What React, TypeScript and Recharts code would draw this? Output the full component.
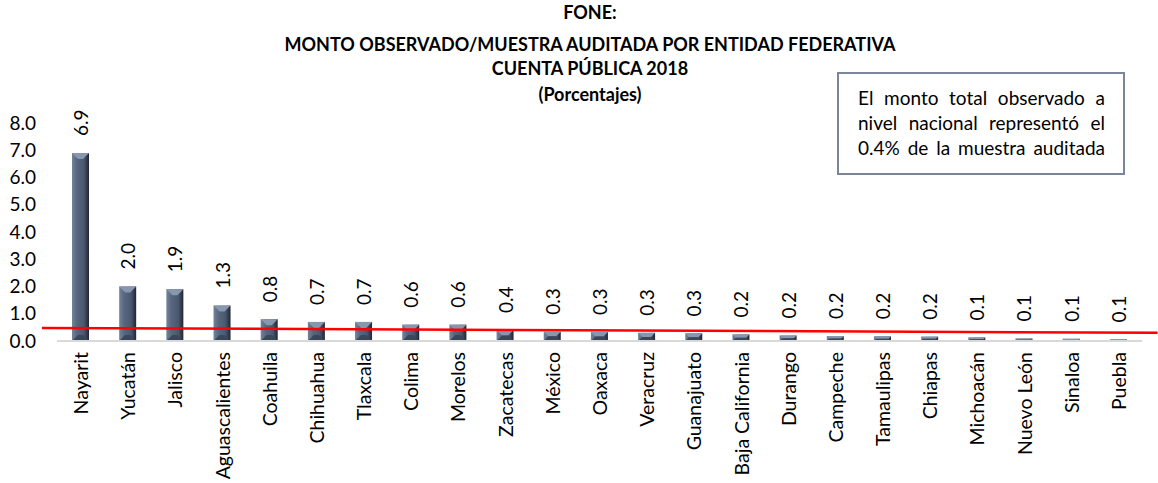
import React from 'react';
import { BarChart, Bar, XAxis, YAxis, ReferenceLine, LabelList } from 'recharts';

const states = [
  'Nayarit', 'Yucatán', 'Jalisco', 'Aguascalientes', 'Coahuila', 'Chihuahua', 'Tlaxcala', 'Colima',
  'Morelos', 'Zacatecas', 'México', 'Oaxaca', 'Veracruz', 'Guanajuato', 'Baja California', 'Durango',
  'Campeche', 'Tamaulipas', 'Chiapas', 'Michoacán', 'Nuevo León', 'Sinaloa', 'Puebla',
];
const porcentajes = [
  6.9, 2.0, 1.9, 1.3, 0.8, 0.7, 0.7, 0.6, 0.6, 0.4, 0.34, 0.33, 0.3, 0.28, 0.24, 0.2,
  0.18, 0.17, 0.16, 0.13, 0.09, 0.08, 0.06,
];
const yTicks = [0, 1, 2, 3, 4, 5, 6, 7, 8];
// red line drawn across the chart: [x start, x end] in category units, [y start, y end]
const lineX = [-0.32, 23.33];
const lineY = [0.48, 0.3];

const titleLines = ['FONE:', 'MONTO OBSERVADO/MUESTRA AUDITADA POR ENTIDAD FEDERATIVA', 'CUENTA PÚBLICA 2018', '(Porcentajes)'];
const noteLines = ['El monto total observado a', 'nivel nacional representó el', '0.4% de la muestra auditada'];

const data = states.map((s, i) => ({ name: s, value: porcentajes[i], idx: i + 0.5 }));

const FONT = 'Lato, "Open Sans", sans-serif';

const BevelBar = (props: any) => {
  const { x, y, width, height } = props;
  if (height <= 0) return null;
  const b = Math.min(6, height / 2, width / 2);
  return (
    <g>
      <rect x={x} y={y} width={width} height={height} fill="url(#barGrad)" />
      <polygon points={`${x},${y} ${x + width},${y} ${x + width - b},${y + b} ${x + b},${y + b}`} fill="#8797ad" />
      <polygon points={`${x},${y + height} ${x + width},${y + height} ${x + width - b},${y + height - b} ${x + b},${y + height - b}`} fill="#3a465a" />
    </g>
  );
};

const ValueLabel = (props: any) => {
  const { x, y, width, value } = props;
  const cx = x + width / 2;
  const ty = y - 17;
  return (
    <text x={cx} y={ty} transform={`rotate(-90, ${cx}, ${ty})`} textAnchor="start" dominantBaseline="central"
      fontSize={19} fill="#000" fontFamily={FONT}>
      {Number(value).toFixed(1)}
    </text>
  );
};

const CatTick = (props: any) => {
  const { x, payload } = props;
  const ty = 352;
  return (
    <text x={x} y={ty} transform={`rotate(-90, ${x}, ${ty})`} textAnchor="end" dominantBaseline="central"
      fontSize={19.5} fill="#000" fontFamily={FONT}>
      {payload.value}
    </text>
  );
};

export default function App() {
  return (
    <div style={{ position: 'absolute', left: 0, top: 0, width: 1158, height: 483, background: '#fff', fontFamily: FONT }}>
      <div style={{ position: 'absolute', left: 0, width: 1180, top: 0, textAlign: 'center', fontWeight: 700, fontSize: 18, color: '#000' }}>
        <div style={{ position: 'absolute', top: 1, width: '100%' }}>{titleLines[0]}</div>
        <div style={{ position: 'absolute', top: 33, width: '100%' }}>{titleLines[1]}</div>
        <div style={{ position: 'absolute', top: 57, width: '100%' }}>{titleLines[2]}</div>
        <div style={{ position: 'absolute', top: 83, width: '100%' }}>{titleLines[3]}</div>
      </div>
      <BarChart width={1158} height={483} data={data} margin={{ top: 123, right: 16, bottom: 0, left: 0 }}>
        <defs>
          <linearGradient id="barGrad" x1="0" y1="0" x2="1" y2="0">
            <stop offset="0%" stopColor="#72839b" />
            <stop offset="30%" stopColor="#57667e" />
            <stop offset="70%" stopColor="#4a5870" />
            <stop offset="100%" stopColor="#1f2632" />
          </linearGradient>
        </defs>
        <XAxis dataKey="name" height={142} interval={0} tick={<CatTick />} tickLine={false}
          axisLine={{ stroke: '#d9d9d9', strokeWidth: 2 }} />
        <XAxis xAxisId="line" type="number" dataKey="idx" domain={[0, states.length]} hide />
        <YAxis width={57} domain={[0, 8]} ticks={yTicks} tickFormatter={(v: number) => v.toFixed(1)}
          axisLine={false} tickLine={false} tickSize={0} tickMargin={21}
          tick={{ fontSize: 19, fill: '#000', fontFamily: FONT }} />
        <Bar dataKey="value" barSize={17} shape={<BevelBar />} isAnimationActive={false}>
          <LabelList dataKey="value" content={<ValueLabel />} />
        </Bar>
        <ReferenceLine xAxisId="line" ifOverflow="visible" stroke="#ff0000" strokeWidth={2.5}
          segment={[{ x: lineX[0], y: lineY[0] }, { x: lineX[1], y: lineY[1] }]} />
      </BarChart>
      <div style={{
        position: 'absolute', left: 837, top: 72, width: 288, height: 103, boxSizing: 'border-box',
        border: '2px solid #7a879b', padding: '11px 18px 0 19px', fontSize: 19, lineHeight: '25px',
        color: '#000', background: '#fff',
      }}>
        {noteLines.map((l) => (
          <div key={l} style={{ textAlign: 'justify', textAlignLast: 'justify' }}>{l}</div>
        ))}
      </div>
    </div>
  );
}
